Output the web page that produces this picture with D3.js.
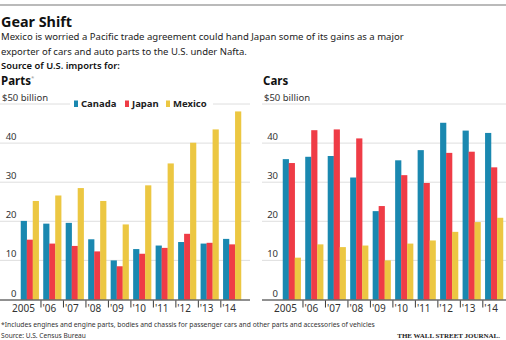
<!DOCTYPE html>
<html><head><meta charset="utf-8">
<script src="https://cdn.jsdelivr.net/npm/d3@7"></script>
<style>body{margin:0;background:#fff}svg{display:block;font-family:"Noto Sans",sans-serif}</style>
</head><body><svg id="c" width="506" height="340"></svg>
<script>
const years = ["2005","'06","'07","'08","'09","'10","'11","'12","'13","'14"];
const series = ["Canada","Japan","Mexico"];
const colors = ["#1a88b0","#ef3c46","#ecc742"];
const partsCanada = [20.1,19.4,19.6,15.4,10.0,12.9,13.8,14.7,14.3,15.5];
const partsJapan  = [15.3,14.3,13.7,12.3,8.5,11.7,13.2,16.8,14.5,14.1];
const partsMexico = [25.2,26.6,28.5,25.2,19.2,29.2,34.8,40.1,43.5,48.1];
const carsCanada  = [35.9,36.5,36.7,31.2,22.6,35.6,38.2,45.2,43.2,42.6];
const carsJapan   = [34.9,43.3,43.5,41.2,23.9,31.8,29.8,37.5,37.8,33.8];
const carsMexico  = [10.7,14.1,13.4,13.8,10.0,14.3,15.1,17.3,19.8,20.9];
const yTicks = [0,10,20,30,40,50];

const svg = d3.select("#c");
const ink = "#222";

function fitText(sel, w) {
  const n = sel.node(); const fs = parseFloat(sel.attr("font-size"));
  const cur = n.getComputedTextLength();
  sel.attr("font-size", (fs * w / cur).toFixed(2));
}

svg.append("line").attr("x1",0).attr("x2",506).attr("y1",5).attr("y2",5).attr("stroke","#777").attr("stroke-width",1.2);
fitText(svg.append("text").attr("x",1).attr("y",27).attr("font-size",17).attr("font-weight",700).attr("fill","#111").text("Gear Shift"), 71);
fitText(svg.append("text").attr("x",1).attr("y",40).attr("font-size",10.5).attr("fill",ink).text("Mexico is worried a Pacific trade agreement could hand Japan some of its gains as a major"), 403);
fitText(svg.append("text").attr("x",1).attr("y",54.5).attr("font-size",10.5).attr("fill",ink).text("exporter of cars and auto parts to the U.S. under Nafta."), 246);
fitText(svg.append("text").attr("x",1).attr("y",69).attr("font-size",10.5).attr("font-weight",600).attr("fill","#111").text("Source of U.S. imports for:"), 119);

const y = d3.scaleLinear().domain([0,50]).range([299.5,104]);

function panel(opts) {
  const g = svg.append("g");
  // grid
  yTicks.forEach(t => {
    if (t === 0) return;
    g.append("line").attr("x1",opts.gx0).attr("x2",opts.gx1).attr("y1",y(t)).attr("y2",y(t))
      .attr("stroke","#d6d6d6").attr("stroke-width",0.8);
  });
  yTicks.forEach(t => {
    if (t === 50) return;
    g.append("text").attr("x",opts.lx).attr("y",y(t)-3).attr("text-anchor","end")
      .attr("font-size",9.5).attr("fill","#333").text(t);
  });
  g.append("text").attr("x",opts.gx0+2).attr("y",y(50)-3).attr("font-size",9.5).attr("fill","#333").text("$50 billion");
  if (opts.title === "Parts") {
    const t = g.append("text").attr("x",opts.gx0+1).attr("y",85).attr("font-size",11.5).attr("font-weight",700).attr("fill","#111");
    t.append("tspan").text("Parts");
    t.append("tspan").attr("font-size",6).attr("font-weight",400).attr("fill","#999").attr("dy",-5).text("*");
  } else {
    g.append("text").attr("x",opts.gx0+1).attr("y",85).attr("font-size",11.5).attr("font-weight",700).attr("fill","#111").text(opts.title);
  }
  const x = d3.scaleBand().domain(years).range(opts.xr).paddingInner(0.2).paddingOuter(0.1);
  const xs = d3.scaleBand().domain(series).range([0,x.bandwidth()]);
  const data = opts.data;
  years.forEach((yr,i) => {
    series.forEach((s,j) => {
      g.append("rect").attr("x",x(yr)+xs(s)).attr("width",xs.bandwidth()+0.2)
        .attr("y",y(data[j][i])).attr("height",y(0)-y(data[j][i])).attr("fill",colors[j]);
    });
  });
  g.append("line").attr("x1",opts.bx0).attr("x2",opts.gx1).attr("y1",y(0)+0.5).attr("y2",y(0)+0.5).attr("stroke","#222").attr("stroke-width",1);
  const gap = x.step()-x.bandwidth();
  years.forEach((yr,i) => {
    if (i === 0) return;
    const tx = x(yr) - gap/2;
    g.append("line").attr("x1",tx).attr("x2",tx).attr("y1",y(0)+1).attr("y2",y(0)+8).attr("stroke","#222").attr("stroke-width",0.9);
    g.append("text").attr("x",tx+1.5).attr("y",312).attr("font-size",10).attr("fill","#333").text(yr);
  });
  const t1 = x(years[1]) - gap/2;
  g.append("text").attr("x",t1-6).attr("y",312).attr("text-anchor","end").attr("font-size",10).attr("fill","#333").text(years[0]);
  return x;
}

panel({title:"Parts", gx0:0, gx1:250, bx0:0, lx:16.5, xr:[18.5,243.3], data:[partsCanada,partsJapan,partsMexico]});
panel({title:"Cars", gx0:262, gx1:506, bx0:262, lx:278, xr:[280.5,505.3], data:[carsCanada,carsJapan,carsMexico]});

// legend
const lg = svg.append("g");
lg.append("rect").attr("x",70).attr("y",98).attr("width",143).attr("height",12).attr("fill","#fff");
const legX = [74,125,166];
series.forEach((s,j) => {
  lg.append("rect").attr("x",legX[j]).attr("y",100.5).attr("width",4).attr("height",6.5).attr("fill",colors[j]);
  lg.append("text").attr("x",legX[j]+7).attr("y",107).attr("font-size",9.5).attr("font-weight",700).attr("fill","#222").text(s);
});

fitText(svg.append("text").attr("x",1).attr("y",327).attr("font-size",7.5).attr("fill","#333").text("*Includes engines and engine parts, bodies and chassis for passenger cars and other parts and accessories of vehicles"), 374);
fitText(svg.append("text").attr("x",1).attr("y",337.5).attr("font-size",7.5).attr("fill","#333").text("Source: U.S. Census Bureau"), 85);
const wsj = svg.append("text").attr("x",500).attr("y",337.5).attr("text-anchor","end").attr("font-size",8).attr("font-weight",700)
  .attr("font-family","'Liberation Serif','DejaVu Serif',serif").attr("fill","#222").text("THE WALL STREET JOURNAL.");
fitText(wsj, 103);
</script></body></html>
